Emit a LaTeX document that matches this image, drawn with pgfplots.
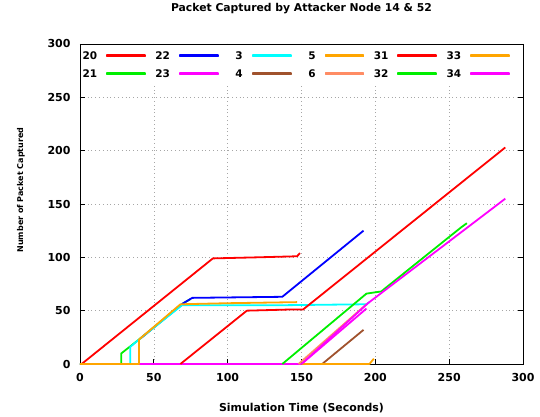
\documentclass[border=0pt]{standalone}
\usepackage{pgfplots}
\pgfplotsset{compat=1.18}
\usepackage{fontspec}
\setmainfont{DejaVu Sans}
\definecolor{gred}{RGB}{255,0,0}
\definecolor{ggreen}{RGB}{0,238,0}
\definecolor{gblue}{RGB}{0,0,255}
\definecolor{gmag}{RGB}{255,0,255}
\definecolor{gcyan}{RGB}{0,255,255}
\definecolor{gbrown}{RGB}{160,82,45}
\definecolor{gorange}{RGB}{255,165,0}
\definecolor{gsalmon}{RGB}{255,140,100}
\pgfplotsset{leg/.style={legend image code/.code={\fill[#1] (0pt,-0.85pt) rectangle (38pt,0.85pt);}}}
\begin{document}
\begin{tikzpicture}
\begin{axis}[
  scale only axis,
  width=443pt, height=320pt,
  xmin=0, xmax=300, ymin=0, ymax=300,
  xtick={0,50,...,300}, ytick={0,50,...,300},
  tick align=inside, major tick length=5pt,
  axis line style={line width=0.9pt, black},
  every tick/.style={black, line width=0.8pt},
  grid=major,
  major grid style={gray!70, line width=0.6pt, dash pattern=on 0.8pt off 3pt},
  /pgf/number format/assume math mode=true,
  tick label style={font=\bfseries\fontsize{11}{13}\selectfont},
  xticklabel style={yshift=-6pt},
  yticklabel style={xshift=-6pt},
  title={Packet Captured by Attacker Node 14 \& 52},
  title style={font=\bfseries\fontsize{10.8}{12}\selectfont, at={(0.5,1)}, anchor=center, yshift=29pt},
  xlabel={Simulation Time (Seconds)},
  xlabel style={font=\bfseries\fontsize{10.9}{12}\selectfont, at={(0.5,0)}, anchor=center, yshift=-44pt},
  ylabel={Number of Packet Captured},
  ylabel style={font=\bfseries\fontsize{8}{10}\selectfont, at={(0,0.5)}, anchor=center, xshift=14pt, yshift=59pt},
  legend columns=6,
  legend plot pos=right,
  legend cell align=right,
  legend style={at={(0,1)}, anchor=north west, xshift=1pt, yshift=-1pt, fill=white, draw=white,
    inner xsep=1pt, inner ysep=6pt, column sep=9pt, row sep=9pt,
    font=\bfseries\fontsize{10.5}{12}\selectfont,
    nodes={inner sep=0pt, text height=8pt, text depth=1pt, text width=15pt, align=right}},
  every axis plot/.append style={line width=1.8pt, no marks, line join=round},
]
% legend in row-major order
\addlegendimage{leg=gred}\addlegendentry{20}
\addlegendimage{leg=gblue}\addlegendentry{22}
\addlegendimage{leg=gcyan}\addlegendentry{3}
\addlegendimage{leg=gorange}\addlegendentry{5}
\addlegendimage{leg=gred}\addlegendentry{31}
\addlegendimage{leg=gorange}\addlegendentry{33}
\addlegendimage{leg=ggreen}\addlegendentry{21}
\addlegendimage{leg=gmag}\addlegendentry{23}
\addlegendimage{leg=gbrown}\addlegendentry{4}
\addlegendimage{leg=gsalmon}\addlegendentry{6}
\addlegendimage{leg=ggreen}\addlegendentry{32}
\addlegendimage{leg=gmag}\addlegendentry{34}
% 20
\addplot[gred, forget plot] coordinates {(1,0) (2,1) (90,99) (120,100) (147,101) (149,104)};
% 21
\addplot[ggreen, forget plot] coordinates {(0,0) (28,0) (28,10) (40,23) (70,57) (75,61)};
% 22
\addplot[gblue, forget plot] coordinates {(41,24) (70,57) (76,62) (137,63) (192,125)};
% 23
\addplot[gmag, forget plot] coordinates {(0,0) (150,0) (194,52)};
% 3
\addplot[gcyan, forget plot] coordinates {(0,0) (34,0) (34,16) (40,23) (69,55) (130,55) (194,56) (196,58)};
% 4
\addplot[gbrown, forget plot] coordinates {(150,0) (164,0) (192,32)};
% 5
\addplot[gorange, forget plot] coordinates {(0,0) (40,0) (40,23) (68,56) (100,57) (147,58)};
% 6
\addplot[gsalmon, forget plot] coordinates {(148,0) (194,56)};
% 31
\addplot[gred, forget plot] coordinates {(68,0) (113,50) (140,51) (151,51) (288,203)};
% 32
\addplot[ggreen, forget plot] coordinates {(137,0) (194,66) (204,68) (258,128) (262,132)};
% 33
\addplot[gorange, forget plot] coordinates {(150,0) (196,0) (199,5)};
% 34
\addplot[gmag, forget plot] coordinates {(150,0) (195,57) (288,155)};
\end{axis}
\path[use as bounding box] (-80pt,-53pt) rectangle (460pt,364pt);
\end{tikzpicture}
\end{document}
